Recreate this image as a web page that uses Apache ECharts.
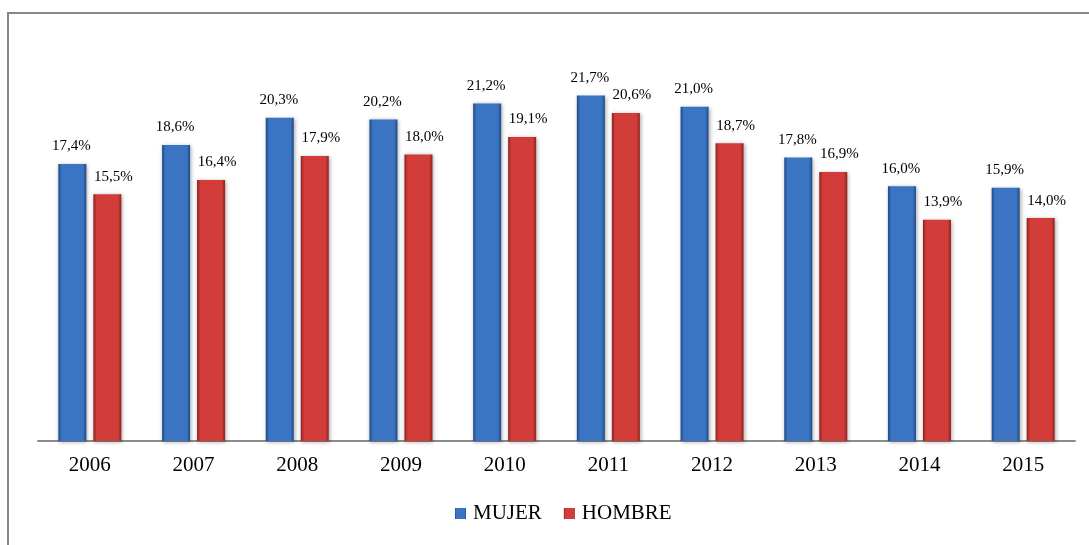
<!DOCTYPE html>
<html>
<head>
<meta charset="utf-8">
<style>
  html, body { margin: 0; padding: 0; background: #fff; }
  #chart { width: 1089px; height: 545px; }
</style>
<script src="https://cdn.jsdelivr.net/npm/echarts@6/dist/echarts.min.js"></script>
</head>
<body>
<div id="chart"></div>
<script>
const years = ['2006', '2007', '2008', '2009', '2010', '2011', '2012', '2013', '2014', '2015'];
const mujer = [17.4, 18.6, 20.3, 20.2, 21.2, 21.7, 21.0, 17.8, 16.0, 15.9];
const hombre = [15.5, 16.4, 17.9, 18.0, 19.1, 20.6, 18.7, 16.9, 13.9, 14.0];

const serif = '"Liberation Serif", "DejaVu Serif", serif';

// horizontal shading: darker rims, flat lighter face
function barGradient(edge, mid) {
  return new echarts.graphic.LinearGradient(0, 0, 1, 0, [
    { offset: 0, color: edge },
    { offset: 0.12, color: mid },
    { offset: 0.5, color: mid },
    { offset: 0.88, color: mid },
    { offset: 1, color: edge }
  ]);
}

const fmt = p => p.value.toFixed(1).replace('.', ',') + '%';

const chart = echarts.init(document.getElementById('chart'));
chart.setOption({
  animation: false,
  backgroundColor: '#ffffff',
  graphic: [{
    type: 'rect',
    shape: { x: 8, y: 13, width: 1200, height: 700 },
    style: { fill: 'none', stroke: '#878787', lineWidth: 2 },
    silent: true
  }],
  grid: { left: 38, right: 14, top: 43, bottom: 104 },
  legend: {
    top: 503,
    left: 455,
    padding: 0,
    icon: 'rect',
    itemWidth: 11,
    itemHeight: 11,
    itemGap: 22,
    textStyle: { fontFamily: serif, fontSize: 21, color: '#000', padding: [0, 0, 0, 2] },
    data: ['MUJER', 'HOMBRE']
  },
  xAxis: {
    type: 'category',
    data: years,
    axisLine: { lineStyle: { color: '#8c8c8c', width: 2 } },
    axisTick: { show: false },
    axisLabel: { fontFamily: serif, fontSize: 21, color: '#000', margin: 14 }
  },
  yAxis: {
    type: 'value',
    min: 0,
    max: 25,
    show: false,
    splitLine: { show: false }
  },
  series: [
    {
      name: 'MUJER',
      type: 'bar',
      data: mujer,
      barWidth: 28,
      barGap: '25%',
      itemStyle: {
        color: barGradient('#1e4a86', '#3a74c2'),
        shadowColor: 'rgba(0,0,0,0.35)',
        shadowBlur: 4,
        shadowOffsetX: 1,
        shadowOffsetY: 1
      },
      label: {
        show: true,
        position: 'top',
        distance: 10,
        offset: [-1, 0],
        formatter: fmt,
        fontFamily: serif,
        fontSize: 15,
        color: '#000'
      }
    },
    {
      name: 'HOMBRE',
      type: 'bar',
      data: hombre,
      barWidth: 28,
      itemStyle: {
        color: barGradient('#8e2220', '#d23c39'),
        shadowColor: 'rgba(0,0,0,0.35)',
        shadowBlur: 4,
        shadowOffsetX: 1,
        shadowOffsetY: 1
      },
      label: {
        show: true,
        position: 'top',
        distance: 10,
        offset: [6, 0],
        formatter: fmt,
        fontFamily: serif,
        fontSize: 15,
        color: '#000'
      }
    }
  ]
});
</script>
</body>
</html>
